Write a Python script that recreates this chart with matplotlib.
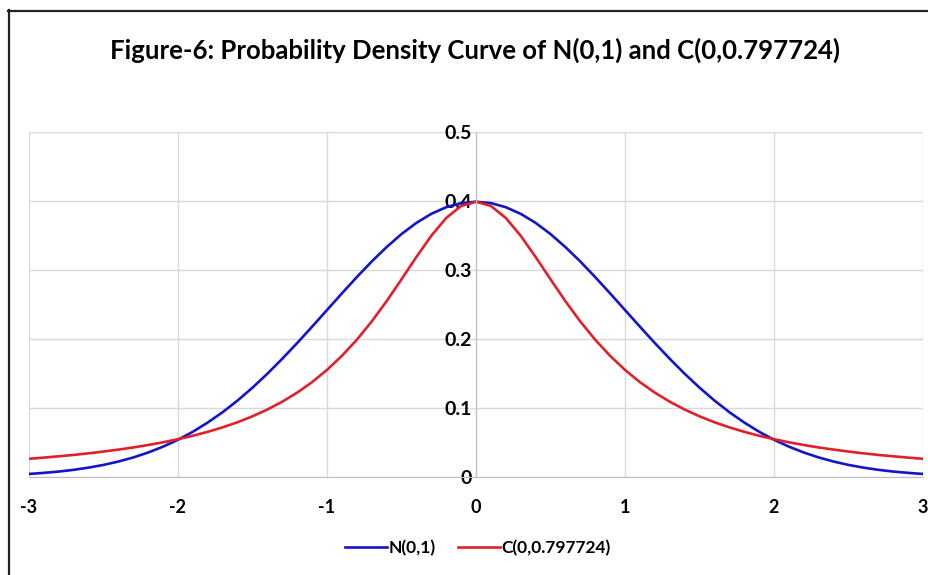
import matplotlib.pyplot as plt
from matplotlib.lines import Line2D

x_vals = [round(-3 + 0.1 * i, 1) for i in range(61)]

# density values, x = -3 .. 3 step 0.1
normal_y = [0.0044, 0.0060, 0.0079, 0.0104, 0.0136, 0.0175, 0.0224, 0.0283, 0.0355, 0.0440,
            0.0540, 0.0656, 0.0790, 0.0940, 0.1109, 0.1295, 0.1497, 0.1714, 0.1942, 0.2179,
            0.2420, 0.2661, 0.2897, 0.3123, 0.3332, 0.3521, 0.3683, 0.3814, 0.3910, 0.3970,
            0.3989,
            0.3970, 0.3910, 0.3814, 0.3683, 0.3521, 0.3332, 0.3123, 0.2897, 0.2661, 0.2420,
            0.2179, 0.1942, 0.1714, 0.1497, 0.1295, 0.1109, 0.0940, 0.0790, 0.0656, 0.0540,
            0.0440, 0.0355, 0.0283, 0.0224, 0.0175, 0.0136, 0.0104, 0.0079, 0.0060, 0.0044]
cauchy_y = [0.0264, 0.0281, 0.0300, 0.0320, 0.0343, 0.0369, 0.0397, 0.0428, 0.0464, 0.0503,
            0.0548, 0.0598, 0.0655, 0.0720, 0.0794, 0.0880, 0.0978, 0.1092, 0.1223, 0.1375,
            0.1552, 0.1756, 0.1989, 0.2254, 0.2548, 0.2865, 0.3189, 0.3496, 0.3754, 0.3928,
            0.3990,
            0.3928, 0.3754, 0.3496, 0.3189, 0.2865, 0.2548, 0.2254, 0.1989, 0.1756, 0.1552,
            0.1375, 0.1223, 0.1092, 0.0978, 0.0880, 0.0794, 0.0720, 0.0655, 0.0598, 0.0548,
            0.0503, 0.0464, 0.0428, 0.0397, 0.0369, 0.0343, 0.0320, 0.0300, 0.0281, 0.0264]

x_ticks = [-3, -2, -1, 0, 1, 2, 3]
y_ticks = [0, 0.1, 0.2, 0.3, 0.4, 0.5]
y_labels = ['0', '0.1', '0.2', '0.3', '0.4', '0.5']

plt.rcParams['font.family'] = ['Lato', 'DejaVu Sans']

fig = plt.figure(figsize=(9.29, 5.75), dpi=100)
ax = fig.add_axes([29 / 929, 98 / 575, 894 / 929, 345 / 575])

ax.plot(x_vals, normal_y, color='#1414c8', lw=1.9, label='N(0,1)')
ax.plot(x_vals, cauchy_y, color='#e0202a', lw=1.9, label='C(0,0.797724)')

# y axis crosses at x = 0 (set before the labels, it resets the ticks)
for s in ['top', 'right']:
    ax.spines[s].set_visible(False)
ax.spines['left'].set_position(('data', 0))
ax.spines['left'].set_color('#bfbfbf')
ax.spines['bottom'].set_color('#bfbfbf')

ax.set_xlim(-3, 3)
ax.set_ylim(0, 0.5)
ax.set_xticks(x_ticks)
ax.set_xticklabels([str(t) for t in x_ticks], fontweight='bold', fontsize=13)
ax.set_yticks(y_ticks)
ax.set_yticklabels(y_labels, fontweight='bold', fontsize=14)
ax.grid(True, color='#d9d9d9', lw=1)
ax.set_axisbelow(True)
ax.tick_params(axis='both', length=0)
ax.tick_params(axis='x', pad=16)
ax.tick_params(axis='y', pad=3)

fig.text(475 / 929, 1 - 50 / 575, 'Figure-6: Probability Density Curve of N(0,1) and C(0,0.797724)',
         ha='center', va='center', fontsize=18.5, fontweight='bold')

fig.legend(loc='center', bbox_to_anchor=(478 / 929, 1 - 548 / 575), ncol=2, frameon=False,
           prop={'weight': 'bold', 'size': 12.5}, handlelength=2.4, handletextpad=0.1,
           columnspacing=1.3)

# outer chart frame (cut off at the right and bottom)
fig.add_artist(Line2D([8.5 / 929, 8.5 / 929], [0, 1 - 10 / 575], color='#222222', lw=1.6))
fig.add_artist(Line2D([8 / 929, 1], [1 - 11 / 575, 1 - 11 / 575], color='#222222', lw=1.6))

fig.savefig('out.png', dpi=100)
